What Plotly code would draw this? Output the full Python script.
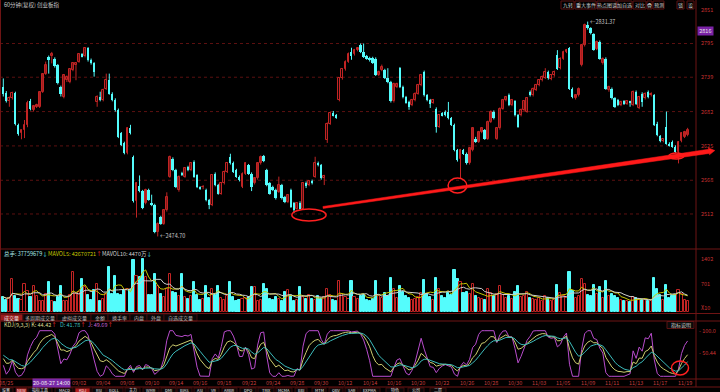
import numpy as np
import pandas as pd
import plotly.graph_objects as go

# ---------------- data (60-min candles, ChiNext index) ----------------
opens = [2723,2713,2699,2704,2713,2659,2646,2651,2659,2700,
         2684,2690,2690,2715,2745,2772,2774,2770,2759,2723,
         2707,2734,2731,2751,2759,2765,2777,2774,2787,2768,
         2762,2698,2707,2701,2720,2734,2712,2702,2685,2646,
         2630,2613,2654,2607,2533,2558,2550,2530,2552,2530,
         2527,2482,2507,2496,2518,2574,2604,2585,2552,2579,
         2574,2590,2585,2599,2576,2556,2556,2552,2535,2527,
         2579,2560,2546,2563,2582,2607,2597,2585,2574,2557,
         2579,2593,2579,2563,2571,2596,2608,2585,2563,2557,
         2552,2549,2560,2540,2532,2552,2530,2521,2531,2521,
         2563,2560,2567,2574,2597,2593,2571,2635,2662,2679,
         2676,2701,2737,2752,2765,2781,2777,2784,2792,2781,
         2774,2771,2771,2770,2743,2751,2751,2738,2731,2699,
         2723,2754,2723,2706,2698,2693,2701,2712,2726,2748,
         2709,2701,2697,2687,2657,2679,2682,2682,2671,2660,
         2618,2604,2618,2612,2596,2618,2637,2632,2648,2651,
         2637,2665,2682,2637,2654,2687,2701,2710,2693,2699,
         2676,2676,2685,2682,2715,2709,2718,2726,2734,2738,
         2748,2736,2742,2776,2754,2770,2781,2787,2720,2704,
         2709,2759,2792,2826,2820,2810,2786,2798,2762,2770,
         2717,2720,2704,2701,2693,2699,2695,2698,2693,2715,
         2688,2712,2704,2715,2709,2709,2662,2641,2633,2657,
         2629,2632,2624,2615,2633,2640,2643]
highs = [2737,2716,2707,2715,2715,2662,2652,2668,2700,2703,
         2693,2695,2716,2746,2765,2775,2781,2772,2761,2725,
         2744,2742,2754,2764,2764,2779,2779,2789,2789,2770,
         2764,2709,2715,2720,2745,2745,2714,2704,2687,2648,
         2632,2656,2660,2609,2565,2576,2552,2554,2554,2544,
         2529,2498,2509,2520,2548,2609,2606,2587,2576,2582,
         2590,2592,2598,2601,2578,2558,2560,2554,2537,2578,
         2581,2562,2565,2584,2598,2612,2599,2587,2576,2581,
         2598,2595,2581,2573,2598,2609,2610,2587,2565,2559,
         2554,2574,2562,2542,2545,2554,2532,2532,2533,2565,
         2566,2568,2569,2607,2599,2595,2577,2664,2681,2683,
         2678,2739,2754,2767,2780,2788,2786,2789,2795,2795,
         2776,2773,2773,2772,2750,2760,2753,2754,2733,2730,
         2730,2756,2725,2708,2700,2703,2714,2728,2744,2750,
         2711,2703,2703,2689,2678,2681,2684,2698,2673,2662,
         2620,2620,2620,2614,2623,2656,2640,2650,2656,2653,
         2667,2684,2684,2656,2689,2703,2708,2712,2703,2701,
         2678,2687,2701,2706,2717,2722,2728,2736,2742,2754,
         2750,2744,2750,2784,2772,2783,2786,2789,2722,2711,
         2722,2794,2828,2831.37,2822,2812,2800,2800,2772,2772,
         2725,2722,2706,2703,2700,2701,2701,2700,2717,2717,
         2708,2714,2714,2717,2714,2711,2665,2643,2637,2682,
         2631,2634,2626,2633,2648,2650,2655]
lows = [2707,2697,2690,2702,2659,2642,2636,2638,2656,2684,
        2682,2688,2688,2713,2743,2745,2762,2755,2727,2707,
        2704,2731,2729,2749,2734,2763,2772,2772,2765,2760,
        2740,2690,2699,2699,2718,2710,2699,2682,2638,2625,
        2611,2611,2644,2531,2506,2548,2520,2528,2534,2525,
        2480,2474.70,2494,2494,2516,2572,2583,2555,2549,2575,
        2572,2583,2583,2572,2555,2552,2553,2533,2520,2525,
        2558,2544,2544,2561,2580,2594,2580,2572,2566,2555,
        2577,2577,2550,2561,2569,2594,2598,2558,2544,2550,
        2536,2547,2536,2530,2530,2522,2514,2519,2519,2519,
        2555,2558,2561,2572,2591,2569,2560,2630,2660,2674,
        2670,2699,2735,2750,2763,2768,2775,2782,2779,2771,
        2768,2765,2761,2741,2741,2749,2736,2729,2697,2697,
        2721,2721,2704,2695,2685,2691,2699,2710,2724,2707,
        2699,2688,2695,2647,2655,2674,2674,2669,2658,2616,
        2599,2571,2610,2594,2594,2616,2630,2630,2646,2635,
        2635,2663,2669,2635,2652,2685,2699,2691,2691,2674,
        2655,2674,2683,2680,2707,2707,2716,2724,2732,2736,
        2735,2734,2740,2751,2752,2768,2779,2718,2704,2702,
        2707,2757,2790,2818,2810,2783,2784,2768,2760,2718,
        2715,2702,2688,2691,2691,2693,2693,2690,2691,2693,
        2686,2690,2702,2704,2707,2658,2641,2631,2631,2627,
        2624,2622,2613,2596,2631,2638,2641]
closes = [2712,2700,2704,2713,2661,2645,2651,2660,2697,2686,
          2691,2693,2715,2745,2760,2767,2778,2757,2729,2712,
          2742,2740,2752,2762,2762,2777,2774,2787,2767,2762,
          2748,2707,2701,2718,2734,2712,2701,2684,2640,2627,
          2613,2654,2646,2533,2563,2550,2522,2552,2536,2527,
          2482,2496,2496,2518,2541,2607,2585,2557,2574,2577,
          2588,2585,2596,2574,2557,2555,2557,2535,2527,2576,
          2560,2546,2563,2582,2596,2596,2582,2574,2568,2579,
          2596,2579,2557,2571,2596,2607,2600,2560,2546,2552,
          2538,2560,2538,2532,2543,2524,2519,2530,2521,2563,
          2558,2566,2563,2596,2593,2571,2575,2662,2679,2676,
          2672,2737,2752,2765,2778,2774,2784,2787,2781,2773,
          2770,2767,2763,2743,2748,2756,2738,2731,2699,2728,
          2728,2723,2706,2697,2690,2701,2712,2726,2742,2709,
          2701,2695,2701,2657,2676,2676,2676,2671,2660,2618,
          2601,2618,2612,2596,2621,2654,2632,2648,2654,2637,
          2665,2682,2671,2654,2687,2701,2706,2693,2701,2676,
          2657,2685,2699,2704,2709,2720,2726,2734,2740,2748,
          2737,2742,2748,2753,2770,2781,2784,2720,2706,2709,
          2720,2792,2826,2820,2812,2785,2798,2770,2770,2720,
          2723,2704,2690,2693,2698,2695,2699,2697,2715,2695,
          2706,2698,2712,2706,2712,2660,2643,2633,2636,2629,
          2626,2624,2615,2631,2646,2648,2651]
volumes = [400,330,380,870,420,350,330,750,560,390,
           700,430,300,300,480,790,300,260,390,700,
           300,300,440,1050,480,530,880,660,440,310,
           570,750,300,350,480,1180,480,960,480,440,
           570,620,570,1370,960,920,1400,920,440,440,
           1000,700,480,400,620,1000,520,500,420,1000,
           400,350,420,790,450,330,350,700,380,600,
           450,700,380,330,420,790,400,300,330,350,
           380,400,650,660,300,330,750,620,350,330,
           400,350,300,530,570,420,300,330,660,400,
           350,450,350,330,420,350,400,600,450,330,
           300,830,480,400,350,830,400,350,420,450,
           330,300,350,820,420,380,500,430,900,620,
           380,700,520,430,380,330,350,400,500,850,
           480,400,330,900,620,420,380,500,450,1100,
           880,800,500,520,480,750,420,380,350,330,
           600,500,420,480,700,450,380,420,350,520,
           680,400,430,520,380,350,330,360,300,420,
           380,300,330,720,500,420,380,1050,550,380,
           420,880,750,450,420,720,480,650,380,820,
           420,480,420,380,330,300,280,260,400,380,
           350,330,330,300,280,900,620,450,330,720,
           380,420,450,580,480,330,300]

date_labels = ["08/25","08/27","08/31","09/02","09/04","09/08","09/10","09/14",
               "09/16","09/18","09/22","09/24","09/28","09/30","10/12","10/14",
               "10/16","10/20","10/22","10/26","10/28","10/30","11/03","11/05",
               "11/09","11/11","11/13","11/17","11/19"]
date_tick_index = [1 + 8 * k for k in range(len(date_labels))]
cursor_date_label = "20-08-27 14:00"
price_ticks = [2851, 2795, 2739, 2682, 2625, 2568, 2512]
grid_levels = [2795, 2739, 2682, 2625, 2568, 2512]
cursor_price = 2816
kdj_ticks = [100.0, 50.44]

# ---------------- geometry / style ----------------
W, H = 720, 392
FONT = "Noto Sans CJK SC, Noto Sans, sans-serif"
BG = "#000000"
UP = "#c22424"
DN = "#54fcfc"
GRID = "#5c1010"
SEP = "#6e1414"
AXT = "#c83232"
X0, X1 = -1.09, 236.7
P_TOP, P_BOT = 2795 + 42.5 * 1.66, 2795 - 204.5 * 1.66
PRICE_PX = (1, 248)
VOL_PX = (250, 313)
V_TOP, V_BOT = 1402 + 9 * 26.45, -26.45
KDJ_PX = (322, 378)
K_TOP, K_BOT = 100 + 8.7 / 0.456, -1.7 / 0.456


def pp(py):
    return 1 - py / H


def x_to_px(i):
    return (i - X0) / (X1 - X0) * W


def price_to_py(p):
    return PRICE_PX[0] + (P_TOP - p) / (P_TOP - P_BOT) * (PRICE_PX[1] - PRICE_PX[0])


n = len(closes)
idx = list(range(n))

# indicators
vs = pd.Series(volumes, dtype=float)
mavol5 = vs.rolling(5, min_periods=1).mean()
mavol10 = vs.rolling(10, min_periods=1).mean()

K = np.zeros(n); D = np.zeros(n)
kp = dp = 50.0
for t in range(n):
    lo = min(lows[max(0, t - 8):t + 1]); hi = max(highs[max(0, t - 8):t + 1])
    rsv = (closes[t] - lo) / (hi - lo) * 100 if hi > lo else 50
    kp = kp * 2 / 3 + rsv / 3
    dp = dp * 2 / 3 + kp / 3
    K[t] = kp; D[t] = dp
J = np.clip(3 * K - 2 * D, 0, 100)

up_mask = [c >= o for o, c in zip(opens, closes)]

fig = go.Figure()

# candles: wicks (scatter segments) + bodies (bars)
for is_up, col in ((True, UP), (False, DN)):
    wx, wy = [], []
    bx, bb, bh = [], [], []
    for i in idx:
        if up_mask[i] != is_up:
            continue
        wx += [i, i, None]
        wy += [lows[i], highs[i], None]
        bx.append(i)
        bb.append(min(opens[i], closes[i]))
        bh.append(max(abs(closes[i] - opens[i]), 0.9))
    fig.add_trace(go.Scatter(x=wx, y=wy, mode="lines", line=dict(color=col, width=1),
                             hoverinfo="skip", showlegend=False, xaxis="x", yaxis="y"))
    fig.add_trace(go.Bar(x=bx, y=bh, base=bb, width=0.62,
                         marker=dict(color=BG if is_up else DN, line=dict(color=col, width=1 if is_up else 0)),
                         hoverinfo="skip", showlegend=False, xaxis="x", yaxis="y"))

vol_fill = [BG if u else DN for u in up_mask]
vol_line = [UP if u else DN for u in up_mask]
fig.add_trace(go.Bar(x=idx, y=volumes, width=0.7,
                     marker=dict(color=vol_fill, line=dict(color=vol_line, width=1)),
                     hoverinfo="skip", showlegend=False, xaxis="x2", yaxis="y2"))
fig.add_trace(go.Scatter(x=idx, y=mavol5, mode="lines", line=dict(color="#c8c800", width=1),
                         hoverinfo="skip", showlegend=False, xaxis="x2", yaxis="y2"))
fig.add_trace(go.Scatter(x=idx, y=mavol10, mode="lines", line=dict(color="#cfcfcf", width=1),
                         hoverinfo="skip", showlegend=False, xaxis="x2", yaxis="y2"))
fig.add_trace(go.Scatter(x=idx, y=J, mode="lines", line=dict(color="#b84ccc", width=1),
                         hoverinfo="skip", showlegend=False, xaxis="x3", yaxis="y3"))
fig.add_trace(go.Scatter(x=idx, y=K, mode="lines", line=dict(color="#cfcf70", width=1),
                         hoverinfo="skip", showlegend=False, xaxis="x3", yaxis="y3"))
fig.add_trace(go.Scatter(x=idx, y=D, mode="lines", line=dict(color="#3cbcbc", width=1),
                         hoverinfo="skip", showlegend=False, xaxis="x3", yaxis="y3"))

shapes = []
annotations = []


def hline(py, x0=0, x1=W, color=SEP, dash="solid"):
    shapes.append(dict(type="line", xref="paper", yref="paper", x0=x0 / W, x1=x1 / W,
                       y0=pp(py), y1=pp(py), line=dict(color=color, width=1, dash=dash)))


def rect(x0, x1, y0, y1, line="#5a1212", fill=None):
    shapes.append(dict(type="rect", xref="paper", yref="paper", x0=x0 / W, x1=x1 / W,
                       y0=pp(y1), y1=pp(y0), line=dict(color=line, width=1),
                       fillcolor=fill if fill else "rgba(0,0,0,0)", layer="below"))


def pann(text, px, py, color, size=5.5, xanchor="left", bg=None):
    d = dict(text=text, x=px / W, y=pp(py), xref="paper", yref="paper", showarrow=False,
             xanchor=xanchor, yanchor="middle", font=dict(family=FONT, size=size, color=color))
    if bg:
        d.update(bgcolor=bg, borderpad=0)
    annotations.append(d)


# grid lines in price panel
for lv in grid_levels:
    shapes.append(dict(type="line", xref="paper", yref="y", x0=0, x1=696 / W, y0=lv, y1=lv,
                       line=dict(color=GRID, width=1, dash="dot"), layer="below"))
# separators
for py in (249, 313.5, 321, 379, 387):
    hline(py)
shapes.append(dict(type="line", xref="paper", yref="paper", x0=696 / W, x1=696 / W,
                   y0=pp(387), y1=1, line=dict(color=SEP, width=1)))
shapes.append(dict(type="line", xref="paper", yref="paper", x0=0.5 / W, x1=0.5 / W,
                   y0=pp(387), y1=1, line=dict(color=SEP, width=1)))

# price axis labels
for t in price_ticks:
    annotations.append(dict(text=str(t), x=699 / W, xref="paper", y=t, yref="y", showarrow=False,
                            xanchor="left", yanchor="middle", font=dict(family=FONT, size=5.5, color=AXT)))
annotations.append(dict(text=" %d " % cursor_price, x=697 / W, xref="paper", y=cursor_price, yref="y",
                        showarrow=False, xanchor="left", yanchor="middle", bgcolor="#7a22a6",
                        borderpad=0, font=dict(family=FONT, size=5.5, color="#e8e8e8")))

# high / low labels from data
ih = int(np.argmax(highs)); il = int(np.argmin(lows))
annotations.append(dict(text="←%.2f" % highs[ih], x=ih, y=highs[ih], xref="x", yref="y", showarrow=False,
                        xanchor="left", yanchor="middle", font=dict(family=FONT, size=5.5, color="#c8c8c8")))
annotations.append(dict(text="←%.2f" % lows[il], x=il, y=lows[il], xref="x", yref="y", showarrow=False,
                        xanchor="left", yanchor="middle", font=dict(family=FONT, size=5.5, color="#c8c8c8")))

# title and top buttons
pann("60分钟(复权) 创业板指", 2, 5, "#c8c8c8")
buttons = [("九转", 561, 574), ("重大事件", 575, 596), ("热点图谱", 597, 616), ("加自选", 617, 632),
           ("对比", 633, 646), ("叠", 647, 652), ("预测", 653, 664), ("锁", 677, 684), ("设", 687, 694)]
for txt, a, b in buttons:
    rect(a, b, 1, 9)
    pann(txt, (a + b) / 2, 5, "#d0d0d0", size=5, xanchor="center")

# volume legend and axis labels
pann("总手: 37759679<span style='color:#54fcfc'>↓</span>", 2, 254, "#a8e8e8")
pann("MAVOL5: 42670721<span style='color:#ff3030'>↑</span>", 46, 254, "#c8c800")
pann("MAVOL10: 4470万<span style='color:#54fcfc'>↓</span>", 100, 254, "#d0d0d0")
for txt, py in (("1402", 259), ("701", 284), ("X10", 308)):
    pann(txt, 699, py, AXT)

# volume tabs
vtabs = [("成交量", 0, 23), ("多周期成交量", 23, 57), ("虚拟成交量", 57, 91), ("金额", 91, 108),
         ("换手率", 108, 130), ("内盘", 130, 147), ("外盘", 147, 164), ("自选成交量", 164, 197)]
for i, (txt, a, b) in enumerate(vtabs):
    rect(a, b, 314, 321, line="#3c0c0c", fill="#9a1c1c" if i == 0 else "#080808")
    pann(txt, (a + b) / 2, 317.5, "#e8e8e8" if i == 0 else "#bdbdbd", size=5, xanchor="center")

# KDJ legend and labels
pann("KDJ(9,3,3) K: 44.42<span style='color:#ff3030'>↑</span>", 2, 325, "#d8d890")
pann("D: 41.78<span style='color:#ff3030'>↑</span>", 58, 325, "#3cbcbc")
pann("J: 49.69<span style='color:#ff3030'>↑</span>", 86, 325, "#c060d0")
rect(667, 694, 321.5, 328.5, line="#5a1212", fill="#0a0a0a")
pann("指标说明", 680.5, 325, "#d0d0d0", size=5, xanchor="center")
for t in kdj_ticks:
    annotations.append(dict(text="- %s" % ("%.1f" % t if t == 100 else "%.2f" % t), x=697 / W, xref="paper",
                            y=t, yref="y3", showarrow=False, xanchor="left", yanchor="middle",
                            font=dict(family=FONT, size=5.5, color=AXT)))

# date labels (08/27 and 08/31 are hidden under the cursor-date box in the screenshot)
for k, (lab, ti) in enumerate(zip(date_labels, date_tick_index)):
    if k in (1, 2):
        continue
    annotations.append(dict(text=lab, x=ti, xref="x3", y=pp(382.5), yref="paper", showarrow=False,
                            xanchor="center", yanchor="middle", font=dict(family=FONT, size=5.5, color="#c23c3c")))
pann(cursor_date_label, 32, 382.5, "#f0f0f0", size=5.5, bg="#7a2aa8")

# bottom tab row
btabs = [("设置", 0, 13), ("NEW", 16, 27), ("指标工具", 28, 52), ("MACD", 55, 73), ("KDJ", 75, 90),
         ("RSI", 92, 106), ("BOLL", 107, 123), ("主力", 125, 140), ("WMR", 143, 159), ("DMI", 161, 176),
         ("BIAS", 177, 192), ("ASI", 194, 206), ("VR", 208, 219), ("ARBR", 222, 237), ("DPO", 240, 256),
         ("TRIX", 258, 274), ("MCMA", 276, 292), ("BBI", 295, 307), ("MTM", 312, 326), ("OBV", 329, 343),
         ("SAR", 345, 358), ("EXPMA", 360, 380), ("特色", 386, 404), ("公司", 408, 424), ("二层", 430, 446)]
for txt, a, b in btabs:
    red = txt in ("NEW", "KDJ")
    rect(a, b, 388, 396, line="#3c0c0c", fill="#b01c1c" if red else "#080808")
    pann(txt, (a + b) / 2, 389.6, "#e8e8e8", size=4, xanchor="center")

# hand-drawn red markers (ellipses in data coords)
for (xa, xb, ya, yb) in ((95.3, 106.6, 2500.4, 2520.3), (146.9, 153.1, 2546.8, 2571.7),
                         (219.8, 224.8, 2603.3, 2613.2)):
    shapes.append(dict(type="circle", xref="x", yref="y", x0=xa, x1=xb, y0=ya, y1=yb,
                       line=dict(color="#ff2020", width=1.5)))
shapes.append(dict(type="circle", xref="x3", yref="y3", x0=220.7, x1=226.3, y0=2.9, y1=33.6,
                   line=dict(color="#ff2020", width=1.5)))

# tapered trend arrow
ARROW_START = (105.6, 2522.8)
ARROW_END = (235.0, 2617.4)
sx, sy = x_to_px(ARROW_START[0]), price_to_py(ARROW_START[1])
ex, ey = x_to_px(ARROW_END[0]), price_to_py(ARROW_END[1])
L = np.hypot(ex - sx, ey - sy)
ux, uy = (ex - sx) / L, (ey - sy) / L
nx, ny = -uy, ux
hx, hy = ex - ux * 6, ey - uy * 6
w0, w1, wh = 1.0, 2.1, 3.5
pts = [(sx + nx * w0, sy + ny * w0), (hx + nx * w1, hy + ny * w1), (hx + nx * wh, hy + ny * wh), (ex, ey),
       (hx - nx * wh, hy - ny * wh), (hx - nx * w1, hy - ny * w1), (sx - nx * w0, sy - ny * w0)]
path = "M " + " L ".join("%.5f,%.5f" % (px / W, pp(py)) for px, py in pts) + " Z"
shapes.append(dict(type="path", xref="paper", yref="paper", path=path, fillcolor="#ff1a1a",
                   line=dict(color="#ff1a1a", width=0.5)))

ax_common = dict(visible=False, showgrid=False, zeroline=False, range=[X0, X1], domain=[0, 1])
fig.update_layout(
    width=W, height=H, margin=dict(l=0, r=0, t=0, b=0),
    paper_bgcolor=BG, plot_bgcolor=BG, showlegend=False, barmode="overlay", bargap=0,
    xaxis=dict(**ax_common, anchor="y"),
    xaxis2=dict(**ax_common, anchor="y2", matches="x"),
    xaxis3=dict(**ax_common, anchor="y3", matches="x"),
    yaxis=dict(visible=False, showgrid=False, zeroline=False, range=[P_BOT, P_TOP],
               domain=[pp(PRICE_PX[1]), pp(PRICE_PX[0])]),
    yaxis2=dict(visible=False, showgrid=False, zeroline=False, range=[V_BOT, V_TOP],
                domain=[pp(VOL_PX[1]), pp(VOL_PX[0])]),
    yaxis3=dict(visible=False, showgrid=False, zeroline=False, range=[K_BOT, K_TOP],
                domain=[pp(KDJ_PX[1]), pp(KDJ_PX[0])]),
    shapes=shapes, annotations=annotations,
)
fig.write_html("out.html", config={"displayModeBar": False},
               post_script="document.body.style.margin='0px';document.body.style.overflow='hidden';")
